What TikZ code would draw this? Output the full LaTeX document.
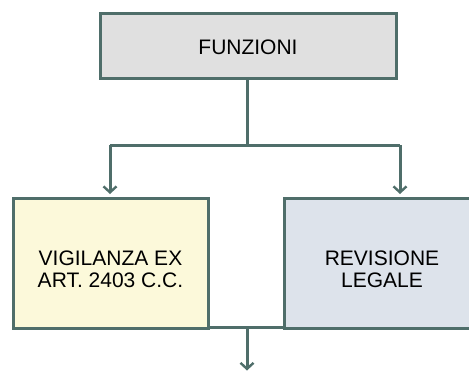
\documentclass[tikz,border=0pt]{standalone}
\usepackage{fontspec}
\setmainfont{Liberation Sans}
\usetikzlibrary{arrows.meta}
\definecolor{linec}{HTML}{4F6E6A}
\definecolor{topfill}{HTML}{E0E0E0}
\definecolor{leftfill}{HTML}{FCF9DA}
\definecolor{rightfill}{HTML}{DDE3EB}
\tikzset{
  box/.style={draw=linec, line width=3pt, rectangle, inner sep=0pt},
  txt/.style={font=\fontsize{21}{22}\selectfont, align=center, text=black, inner sep=0pt},
  conn/.style={draw=linec, line width=3pt},
  arr/.style={conn, -{Straight Barb[length=6pt,width=13pt,line width=2.4pt]}}
}
\begin{document}
\begin{tikzpicture}[x=1pt,y=-1pt]
\useasboundingbox (0,0) rectangle (469,372);
\clip (0,0) rectangle (469,372);
% boxes
\node[box, fill=topfill, minimum width=296, minimum height=65] (fun) at (248,45.5) {};
\node[txt] (funt) at (248,47.5) {FUNZIONI};
\node[box, fill=leftfill, minimum width=195, minimum height=130] (vig) at (110.5,263) {};
\node[txt] (vigt) at (110.5,269) {VIGILANZA EX\\ART. 2403 C.C.};
\node[box, fill=rightfill, minimum width=196, minimum height=130] (rev) at (382,263) {};
\node[txt] (revt) at (382,269) {REVISIONE\\LEGALE};
% top connectors
\coordinate (j) at (247,145);
\coordinate (jl) at (110,145);
\coordinate (jr) at (400,145);
\draw[conn] (fun.south -| j) -- (j);
\draw[conn] (jl) -- (jr);
\draw[arr, shorten >=2.5pt] (jl) -- (jl |- vig.north);
\draw[arr, shorten >=2.5pt] (jr) -- (jr |- rev.north);
% bottom connectors
\coordinate (bj) at (247,327);
\coordinate (bend) at (247,370.5);
\draw[conn] (vig.south east |- bj) -- (rev.south west |- bj);
\draw[arr] (bj) -- (bend);
\end{tikzpicture}
\end{document}
